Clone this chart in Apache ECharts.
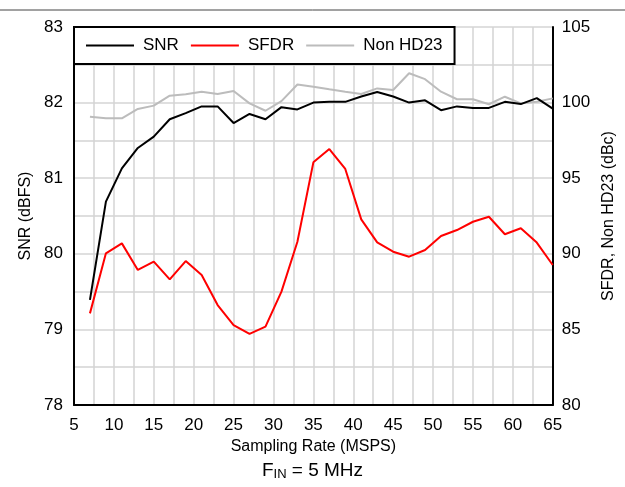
<!DOCTYPE html>
<html>
<head>
<meta charset="utf-8">
<script src="https://cdn.jsdelivr.net/npm/echarts@6/dist/echarts.min.js"></script>
<style>html,body{margin:0;padding:0;background:#fff;}#c{width:625px;height:487px;}</style>
</head>
<body>
<div id="c"></div>
<script>
const rates = [7,9,11,13,15,17,19,21,23,25,27,29,31,33,35,37,39,41,43,45,47,49,51,53,55,57,59,61,63,65];
const snr = [79.39,80.69,81.13,81.40,81.55,81.78,81.86,81.95,81.95,81.73,81.85,81.78,81.94,81.91,82.00,82.01,82.01,82.08,82.14,82.08,82.00,82.03,81.90,81.95,81.93,81.93,82.01,81.98,82.06,81.92];
const sfdr = [86.06,90.03,90.69,88.93,89.48,88.31,89.52,88.60,86.61,85.29,84.70,85.18,87.50,90.80,96.05,96.93,95.61,92.28,90.76,90.14,89.81,90.25,91.18,91.57,92.12,92.45,91.29,91.69,90.74,89.26];
const nonHD23 = [99.07,98.96,98.96,99.58,99.80,100.46,100.55,100.72,100.57,100.77,99.95,99.46,100.10,101.20,101.05,100.88,100.72,100.57,100.94,100.83,101.94,101.55,100.72,100.22,100.22,99.89,100.39,99.95,100.06,100.28];

const font = '"Liberation Sans", Arial, sans-serif';
const chart = echarts.init(document.getElementById('c'), null, {renderer: 'canvas'});
const pair = arr => rates.map((r, i) => [r, arr[i]]);
const gridColor = '#d4d4d4';
chart.setOption({
  animation: false,
  backgroundColor: '#fff',
  textStyle: {fontFamily: font},
  grid: {left: 74, right: 71, top: 27, bottom: 82},
  legend: {
    left: 74, top: 27,
    padding: [10, 12, 10, 12],
    backgroundColor: '#fff',
    borderColor: '#000',
    borderWidth: 2,
    icon: 'rect',
    itemWidth: 48,
    itemHeight: 2,
    itemGap: 12,
    textStyle: {fontSize: 17, color: '#000', fontFamily: font, padding: [0, 0, 0, 4]},
    data: ['SNR', 'SFDR', 'Non HD23']
  },
  xAxis: {
    type: 'value', min: 5, max: 65, interval: 5,
    name: 'Sampling Rate (MSPS)', nameLocation: 'middle', nameGap: 33,
    nameTextStyle: {fontSize: 16, color: '#000', fontFamily: font},
    axisLine: {show: true, onZero: false, lineStyle: {color: '#000', width: 2}},
    axisTick: {show: false},
    axisLabel: {fontSize: 17, color: '#000', margin: 12, fontFamily: font},
    splitLine: {show: true, lineStyle: {color: gridColor, width: 1.5}},
    minorTick: {show: false, splitNumber: 2},
    minorSplitLine: {show: true, lineStyle: {color: gridColor, width: 1.5}}
  },
  yAxis: [{
    type: 'value', min: 78, max: 83, interval: 1, position: 'left',
    name: 'SNR (dBFS)', nameLocation: 'middle', nameGap: 38,
    nameTextStyle: {fontSize: 16, color: '#000', fontFamily: font},
    axisLine: {show: true, lineStyle: {color: '#000', width: 2}},
    axisTick: {show: false},
    axisLabel: {fontSize: 17, color: '#000', margin: 11, fontFamily: font},
    splitLine: {show: true, lineStyle: {color: gridColor, width: 1.5}},
    minorTick: {show: false, splitNumber: 2},
    minorSplitLine: {show: true, lineStyle: {color: gridColor, width: 1.5}}
  }, {
    type: 'value', min: 80, max: 105, interval: 5, position: 'right',
    name: 'SFDR, Non HD23 (dBc)', nameLocation: 'middle', nameGap: 46, nameRotate: 90,
    nameTextStyle: {fontSize: 16, color: '#000', fontFamily: font},
    axisLine: {show: true, lineStyle: {color: '#000', width: 2}},
    axisTick: {show: false},
    axisLabel: {fontSize: 17, color: '#000', margin: 9, fontFamily: font},
    splitLine: {show: false}
  }],
  series: [
    {name: 'Non HD23', type: 'line', yAxisIndex: 1, data: pair(nonHD23), symbol: 'none',
     lineStyle: {color: '#bcbcbc', width: 2}, itemStyle: {color: '#bcbcbc'}, z: 2},
    {name: 'SFDR', type: 'line', yAxisIndex: 1, data: pair(sfdr), symbol: 'none',
     lineStyle: {color: '#ff0000', width: 2}, itemStyle: {color: '#ff0000'}, z: 3},
    {name: 'SNR', type: 'line', yAxisIndex: 0, data: pair(snr), symbol: 'none',
     lineStyle: {color: '#000', width: 2}, itemStyle: {color: '#000'}, z: 4}
  ],
  graphic: [
    {type: 'line', shape: {x1: 0, y1: 10, x2: 625, y2: 10}, style: {stroke: '#444', lineWidth: 1}},
    {type: 'text', left: 'center', top: 461,
     style: {rich: {m: {fontSize: 19, fontFamily: font, fill: '#000'}, s: {fontSize: 13, fontFamily: font, fill: '#000', verticalAlign: 'bottom', padding: [8, 0, 0, 0]}},
             text: '{m|F}{s|IN}{m| = 5 MHz}'}}
  ]
});
</script>
</body>
</html>
